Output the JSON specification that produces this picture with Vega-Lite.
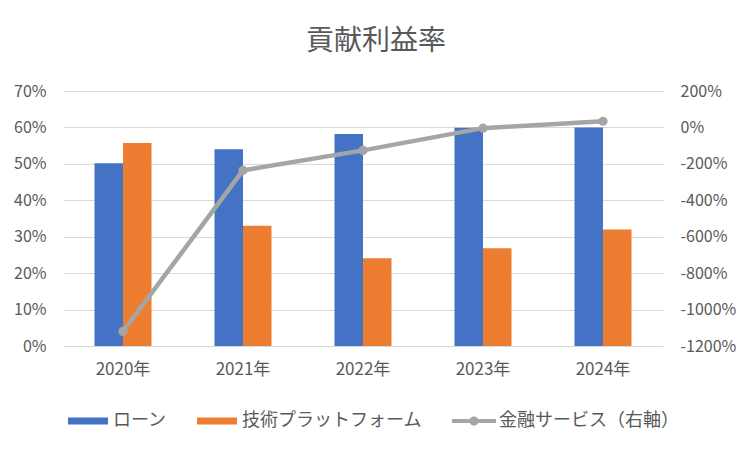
{
  "$schema": "https://vega.github.io/schema/vega-lite/v6.json",
  "autosize": {"type": "none"},
  "width": 600,
  "height": 255,
  "padding": {"left": 63, "top": 91, "right": 89, "bottom": 106},
  "background": "white",
  "title": {
    "text": "貢献利益率",
    "font": "Noto Sans CJK JP",
    "fontSize": 28,
    "fontWeight": "normal",
    "color": "#595959",
    "dx": 13,
    "offset": 27
  },
  "data": {
    "values": [
      {"year": "2020年", "series": "ローン", "value": 0.502},
      {"year": "2021年", "series": "ローン", "value": 0.540},
      {"year": "2022年", "series": "ローン", "value": 0.582},
      {"year": "2023年", "series": "ローン", "value": 0.599},
      {"year": "2024年", "series": "ローン", "value": 0.600},
      {"year": "2020年", "series": "技術プラットフォーム", "value": 0.557},
      {"year": "2021年", "series": "技術プラットフォーム", "value": 0.330},
      {"year": "2022年", "series": "技術プラットフォーム", "value": 0.241},
      {"year": "2023年", "series": "技術プラットフォーム", "value": 0.268},
      {"year": "2024年", "series": "技術プラットフォーム", "value": 0.320},
      {"year": "2020年", "series": "金融サービス（右軸）", "value": -11.2},
      {"year": "2021年", "series": "金融サービス（右軸）", "value": -2.36},
      {"year": "2022年", "series": "金融サービス（右軸）", "value": -1.26},
      {"year": "2023年", "series": "金融サービス（右軸）", "value": -0.04},
      {"year": "2024年", "series": "金融サービス（右軸）", "value": 0.34}
    ]
  },
  "layer": [
    {
      "transform": [{"filter": "datum.series !== '金融サービス（右軸）'"}],
      "mark": {"type": "bar"},
      "encoding": {
        "x": {
          "field": "year",
          "type": "nominal",
          "scale": {"paddingInner": 0.525, "paddingOuter": 0.2625},
          "axis": {"title": null, "labelAngle": 0, "domain": false, "ticks": false, "labelPadding": 15, "labelFontSize": 17}
        },
        "xOffset": {
          "field": "series",
          "type": "nominal",
          "scale": {"domain": ["ローン", "技術プラットフォーム"], "paddingInner": 0, "paddingOuter": 0}
        },
        "y": {
          "field": "value",
          "type": "quantitative",
          "scale": {"domain": [0, 0.7], "nice": false},
          "axis": {
            "orient": "left",
            "title": null,
            "values": [0, 0.1, 0.2, 0.3, 0.4, 0.5, 0.6, 0.7],
            "format": ".0%",
            "domain": false,
            "ticks": false,
            "labelPadding": 17
          }
        },
        "color": {
          "field": "series",
          "type": "nominal",
          "scale": {
            "domain": ["ローン", "技術プラットフォーム", "金融サービス（右軸）"],
            "range": ["#4472C4", "#ED7D31", "#A5A5A5"]
          },
          "legend": {
            "orient": "none",
            "legendX": 5,
            "legendY": 310,
            "direction": "horizontal",
            "title": null,
            "symbolSize": 1600,
            "labelFontSize": 18,
            "labelColor": "#595959",
            "labelFont": "Noto Sans CJK JP",
            "labelOffset": 5,
            "labelLimit": 300,
            "columnPadding": 30,
            "symbolStrokeWidth": 0,
            "symbolOpacity": 1,
            "encode": {
              "symbols": {
                "update": {
                  "shape": {"signal": "datum.value === '金融サービス（右軸）' ? 'M-1.1,-0.1H1.1V0.1H-1.1Z M-0.23,0A0.23,0.23 0 1,1 0.23,0A0.23,0.23 0 1,1 -0.23,0Z' : 'M-1,-0.18H1V0.18H-1Z'"},
                  "fill": {"scale": "color", "field": "value"},
                  "stroke": {"value": "transparent"}
                }
              }
            }
          }
        }
      }
    },
    {
      "transform": [{"filter": "datum.series === '金融サービス（右軸）'"}],
      "mark": {"type": "line", "strokeWidth": 4.5, "point": {"size": 85, "filled": true, "opacity": 1}},
      "encoding": {
        "x": {"field": "year", "type": "nominal"},
        "y": {
          "field": "value",
          "type": "quantitative",
          "scale": {"domain": [-12, 2], "nice": false},
          "axis": {
            "orient": "right",
            "title": null,
            "values": [-12, -10, -8, -6, -4, -2, 0, 2],
            "labelExpr": "(datum.value * 100) + '%'",
            "grid": false,
            "domain": false,
            "ticks": false,
            "labelPadding": 17
          }
        },
        "color": {"field": "series", "type": "nominal"}
      }
    }
  ],
  "resolve": {"scale": {"y": "independent"}},
  "config": {
    "view": {"stroke": null},
    "axis": {
      "labelFont": "Noto Sans CJK JP",
      "labelColor": "#595959",
      "labelFontSize": 16,
      "gridColor": "#D9D9D9",
      "gridWidth": 1.2
    }
  }
}
